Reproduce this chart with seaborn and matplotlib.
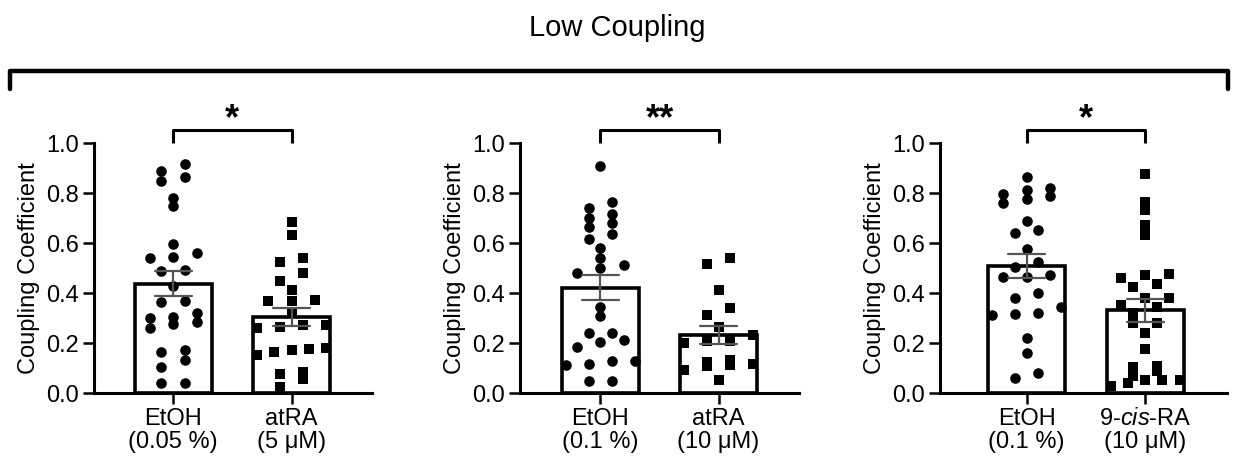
import numpy as np
import pandas as pd
import seaborn as sns
import matplotlib
matplotlib.use("Agg")
import matplotlib.pyplot as plt
from matplotlib.lines import Line2D

# values (coupling coefficient per cell pair)
etoh_005 = [0.889, 0.916, 0.849, 0.863, 0.781, 0.748, 0.596, 0.561, 0.545, 0.539,
            0.488, 0.492, 0.429, 0.368, 0.363, 0.321, 0.276, 0.285, 0.299, 0.259,
            0.305, 0.163, 0.172, 0.103, 0.132, 0.039, 0.041]
atra_5 = [0.685, 0.632, 0.541, 0.525, 0.479, 0.448, 0.412, 0.369, 0.372, 0.369,
          0.319, 0.272, 0.272, 0.259, 0.265, 0.165, 0.172, 0.152, 0.175, 0.179,
          0.085, 0.076, 0.055, 0.025]
etoh_01_a = [0.908, 0.739, 0.681, 0.701, 0.763, 0.716, 0.663, 0.635, 0.615, 0.579,
             0.539, 0.501, 0.512, 0.481, 0.343, 0.308, 0.239, 0.239, 0.185, 0.205,
             0.212, 0.129, 0.112, 0.116, 0.129, 0.049, 0.049]
atra_10 = [0.541, 0.515, 0.413, 0.340, 0.313, 0.264, 0.231, 0.200, 0.207, 0.207,
           0.124, 0.107, 0.117, 0.131, 0.091, 0.113, 0.053]
etoh_01_b = [0.865, 0.819, 0.812, 0.788, 0.776, 0.795, 0.759, 0.688, 0.641, 0.652,
             0.576, 0.523, 0.472, 0.463, 0.465, 0.503, 0.379, 0.401, 0.312, 0.319,
             0.316, 0.343, 0.219, 0.159, 0.059, 0.079]
cisra_10 = [0.876, 0.765, 0.732, 0.672, 0.632, 0.472, 0.475, 0.459, 0.425, 0.436,
            0.379, 0.379, 0.319, 0.345, 0.352, 0.281, 0.279, 0.239, 0.175, 0.103,
            0.109, 0.088, 0.052, 0.052, 0.052, 0.039, 0.070, 0.030]

labels_1 = ["EtOH\n(0.05 %)", "atRA\n(5 \u03bcM)"]
labels_2 = ["EtOH\n(0.1 %)", "atRA\n(10 \u03bcM)"]
labels_3 = ["EtOH\n(0.1 %)", "9-$\\it{cis}$-RA\n(10 \u03bcM)"]
stars = ["*", "**", "*"]
yticks = [0.0, 0.2, 0.4, 0.6, 0.8, 1.0]

sns.set_style("ticks")
plt.rcParams["font.family"] = ["Liberation Sans", "DejaVu Sans"]
plt.rcParams["mathtext.fontset"] = "custom"
plt.rcParams["mathtext.rm"] = "Liberation Sans"
plt.rcParams["mathtext.it"] = "Liberation Sans:italic"
for key in ["text.color", "axes.labelcolor", "xtick.color", "ytick.color", "axes.edgecolor"]:
    plt.rcParams[key] = "black"

W, H = 1233, 463
fig = plt.figure(figsize=(W / 100, H / 100), dpi=100)


def column_offsets(vals, step=0.2, tol=0.032, half=0.29):
    # GraphPad-like column scatter: points close in value share a row
    vals = np.asarray(vals)
    order = np.argsort(vals)
    offs = np.zeros(len(vals))
    rows, cur = [], [order[0]]
    for idx in order[1:]:
        if vals[idx] - vals[cur[0]] < tol:
            cur.append(idx)
        else:
            rows.append(cur)
            cur = [idx]
    rows.append(cur)
    for r in rows:
        n = len(r)
        st = step if n < 2 else min(step, 2 * half / (n - 1))
        for k, idx in enumerate(r):
            offs[idx] = (k - (n - 1) / 2) * st
    return offs


# axes boxes in pixels: left, right (top 143, bottom 393)
boxes = [(94, 372, -0.67, 1.68), (520, 799, -0.68, 1.68), (940, 1227, -0.73, 1.69)]
panels = [(etoh_005, atra_5, labels_1), (etoh_01_a, atra_10, labels_2),
          (etoh_01_b, cisra_10, labels_3)]
fs = 17

for (left, right, x0, x1), (a, b, labs), star in zip(boxes, panels, stars):
    ax = fig.add_axes([left / W, (H - 393) / H, (right - left) / W, 250 / H])
    df = pd.DataFrame({"pos": [0] * len(a) + [1] * len(b), "value": a + b})
    sns.barplot(data=df, x="pos", y="value", native_scale=True, errorbar="se",
                capsize=0.31, width=0.65, color="white", saturation=1,
                edgecolor="black", linewidth=2.6,
                err_kws={"color": "#555555", "linewidth": 1.6, "zorder": 5}, ax=ax)
    for i, (vals, mk) in enumerate([(a, "o"), (b, "s")]):
        sns.scatterplot(x=i + column_offsets(vals), y=vals, marker=mk, s=58,
                        color="black", linewidth=0, zorder=3, ax=ax)

    ax.set_xlim(x0, x1)
    ax.set_ylim(0, 1.0)
    ax.set_yticks(yticks)
    ax.set_yticklabels([f"{t:.1f}" for t in yticks], fontsize=fs)
    ax.set_xticks([0, 1])
    ax.set_xticklabels(labs, fontsize=fs, linespacing=1.05)
    ax.set_xlabel("")
    ax.set_ylabel("Coupling Coefficient", fontsize=fs, labelpad=4)
    sns.despine(ax=ax)
    for s in ["left", "bottom"]:
        ax.spines[s].set_linewidth(2.2)
    ax.tick_params(width=1.8, length=8, pad=3, colors="black")

    # significance bracket
    ax.plot([0, 0, 1, 1], [1.0, 1.052, 1.052, 1.0], color="black", lw=2.2,
            clip_on=False, solid_capstyle="butt")
    ax.text(0.5, 1.055, star, ha="center", va="baseline", fontsize=26,
            fontweight="bold")

# overall bracket and title
bx0, bx1, by, bend = 10 / W, 1228 / W, 1 - 71 / H, 1 - 89 / H
fig.add_artist(Line2D([bx0, bx0, bx1, bx1], [bend, by, by, bend],
                      transform=fig.transFigure, color="black", lw=3.2))
fig.text(617 / W, 1 - 28 / H, "Low Coupling", ha="center", va="center", fontsize=21)

fig.savefig("out.png", dpi=100)
